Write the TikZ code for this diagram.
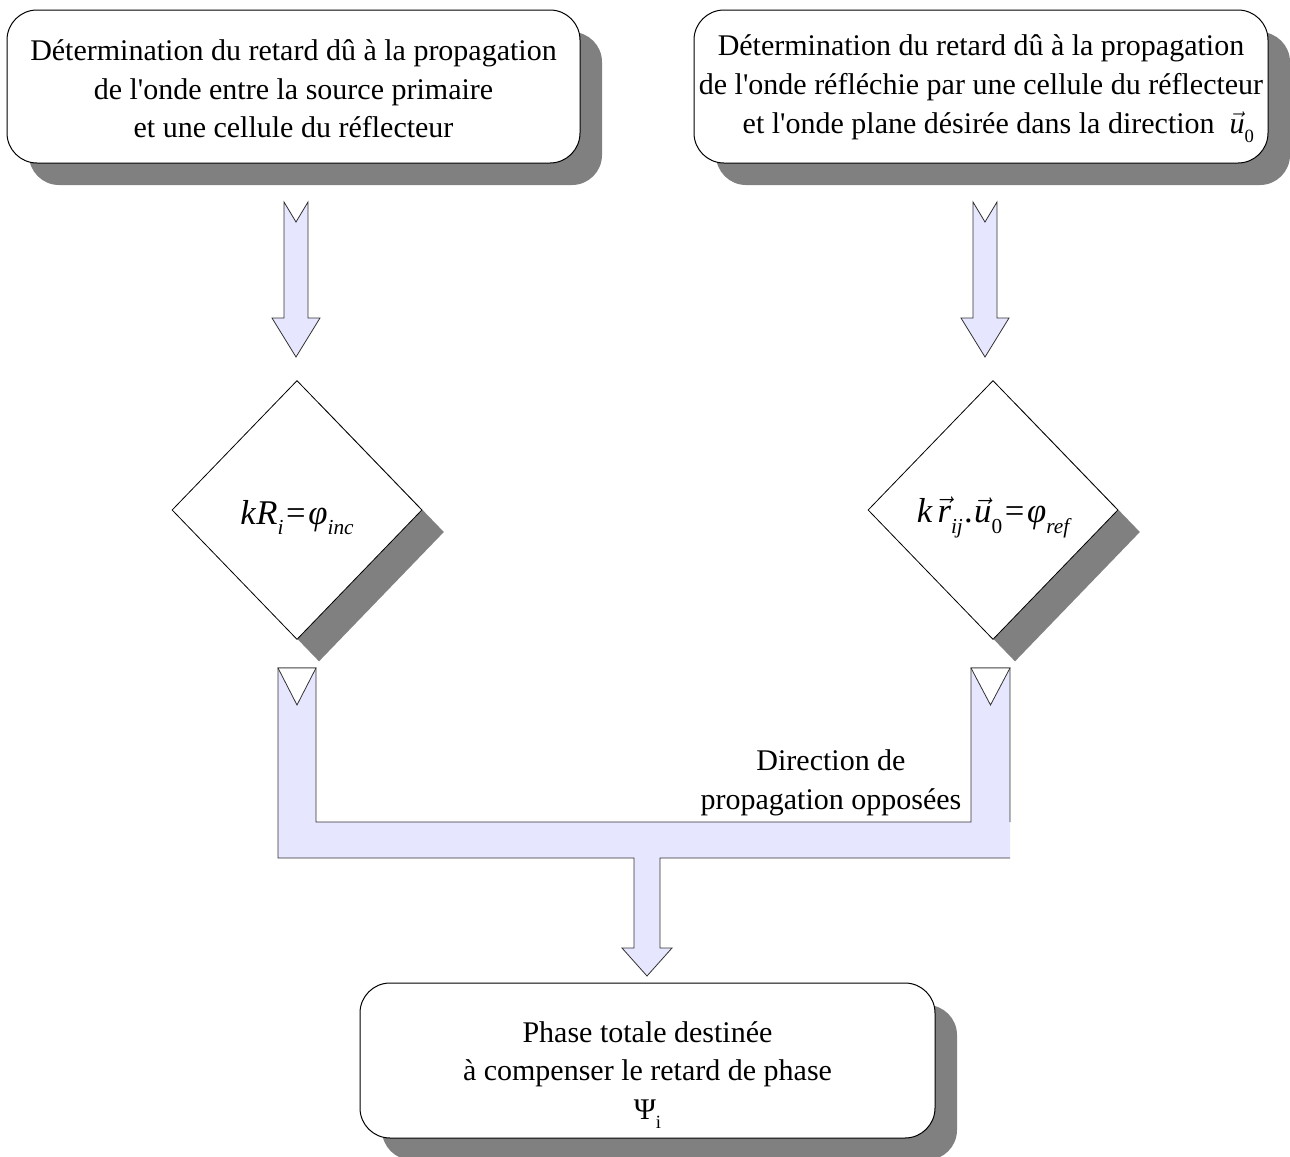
\documentclass[tikz,border=0pt]{standalone}
\usepackage{fontspec}
\setmainfont{Liberation Serif}[Ligatures=TeXOff]
\usetikzlibrary{shapes.geometric,shadows}
\definecolor{shadowgray}{RGB}{128,128,128}
\definecolor{arrowfill}{RGB}{230,230,255}
\definecolor{arrowline}{RGB}{50,50,50}
\newcommand{\vecit}[1]{$\vec{\hbox{\itshape #1}}$}
\newcommand{\subsc}[1]{\raisebox{-0.3em}{\fontsize{14}{14}\selectfont #1}}
\newcommand{\subsf}[1]{\raisebox{-0.3em}{\fontsize{16}{16}\selectfont #1}}
\newcommand{\lowered}[1]{\raisebox{-5.5pt}[\height][\depth]{#1}}
\newcommand{\blockdown}[5]{% x, top, notch, headtop, tip
  \draw[blockarrow] ({#1-12},#2) -- (#1,#3) -- ({#1+12},#2) -- ({#1+12},#4) -- ({#1+24},#4)
    -- (#1,#5) -- ({#1-24},#4) -- ({#1-12},#4) -- cycle;}
\begin{document}
\begin{tikzpicture}[x=0.75pt,y=-0.75pt,
  txt/.style={font=\fontsize{22.5}{29}\selectfont, align=center},
  shadowed/.style={drop shadow={shadow xshift=16.5pt, shadow yshift=-16.5pt, fill=shadowgray, opacity=1}},
  procbox/.style={draw=black, line width=0.75pt, fill=white, rounded corners=22.5pt, txt, inner sep=0pt, shadowed},
  decbox/.style={diamond, draw=black, line width=0.6pt, fill=white, inner sep=0pt, minimum width=187.5pt, minimum height=194.25pt, shadowed, font=\fontsize{26}{30}\selectfont},
  blockarrow/.style={draw=arrowline, line width=0.6pt, fill=arrowfill, line join=miter},
  notch/.style={draw=arrowline, line width=0.6pt, fill=white}
]
\useasboundingbox (0,0) rectangle (1290,1157);

\node[procbox, minimum width=429.75pt, minimum height=114.75pt] (b1) at (293.5,86.5)
  {\rule{0pt}{19pt}Détermination du retard dû à la propagation\\de l'onde entre la source primaire\\et une cellule du réflecteur};
\node[procbox, minimum width=430.5pt, minimum height=114.75pt] (b2) at (981,86.5)
  {\rule{0pt}{19pt}Détermination du retard dû à la propagation\\de l'onde réfléchie par une cellule du réflecteur\\\hspace*{26pt}et l'onde plane désirée dans la direction~~\vecit{u}\subsc{0}};

\node[decbox] (d1) at (297,510) {\lowered{\itshape k\kern0.5pt R\subsf{i}\kern2pt\upshape=\kern2pt\itshape φ\subsf{inc}}};
\node[decbox] (d2) at (993,510) {\lowered{\itshape k\kern4pt\vecit{r}\subsf{ij}\kern1pt\upshape.\kern1pt\vecit{u}\subsf{\upshape 0}\kern2pt=\kern2pt\itshape φ\subsf{ref}}};

\node[procbox, minimum width=431.25pt, minimum height=116.25pt] (b3) at (647.5,1060.5)
  {\rule{0pt}{37pt}Phase totale destinée\\à compenser le retard de phase\\Ψ\subsc{i}};

\node[txt, inner sep=0pt] (lbl) at (831,783) {Direction de\\propagation opposées};

% arrows from top boxes to diamonds
\blockdown{296}{202}{222}{318}{357}
\blockdown{985}{202}{222}{318}{357}

% merging connector
\fill[arrowfill] (278,668) -- (278,858) -- (634,858) -- (634,948) -- (622,948) -- (647,976)
  -- (672,948) -- (660,948) -- (660,858) -- (1010,858) -- (1010,668) -- (971,668)
  -- (971,822) -- (316,822) -- (316,668) -- cycle;
\draw[arrowline, line width=0.6pt, line join=miter] (1010,822) -- (1010,668) -- (971,668)
  -- (971,822) -- (316,822) -- (316,668) -- (278,668) -- (278,858) -- (634,858) -- (634,948)
  -- (622,948) -- (647,976) -- (672,948) -- (660,948) -- (660,858) -- (1010,858);
\draw[notch] (278,668) -- (297,705) -- (316,668) -- cycle;
\draw[notch] (971,668) -- (990.5,705) -- (1010,668) -- cycle;
\end{tikzpicture}
\end{document}
